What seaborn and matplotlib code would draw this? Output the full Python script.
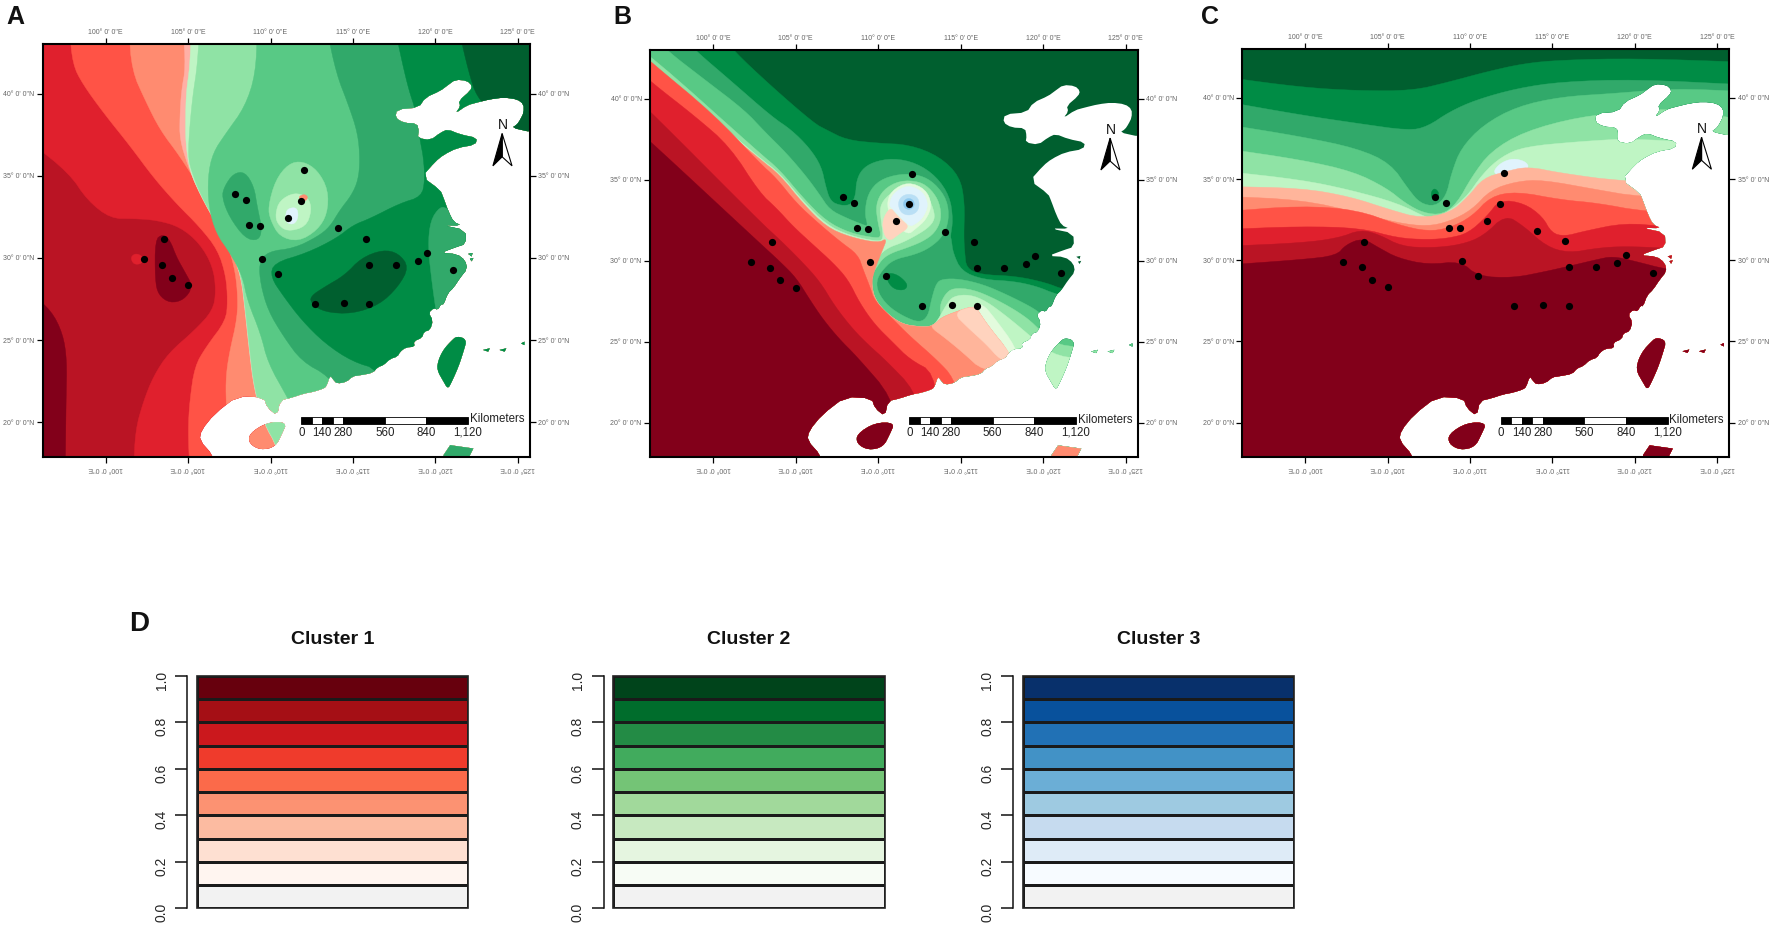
import numpy as np
import pandas as pd
import matplotlib
matplotlib.use("Agg")
import matplotlib.pyplot as plt
from matplotlib.colors import ListedColormap
from matplotlib.patches import PathPatch, Polygon, Rectangle
from matplotlib.path import Path
import seaborn as sns

# ---------------- colours ----------------
MAROON, CRIM, RED, ORANGE, SALMON, PEACH, PINK = "#82001A", "#BA1424", "#E0202D", "#FF5346", "#FF8B70", "#FFB59B", "#FFD3BE"
DARK, GREEN, MID, LIGHT, PALEG, MINT, ICE = "#005F2F", "#008C45", "#31A96A", "#58C985", "#8FE3A5", "#BFF5C4", "#E3FBDD"
SKY, BLUE1, BLUE2 = "#E0F3FC", "#B9DFF5", "#8CC8EE"
RDPK = "#FFB0A6"
REDS = ["#67000D", "#A50F15", "#CB181D", "#EF3B2C", "#FB6A4A", "#FC9272", "#FCBBA1", "#FEE0D2", "#FFF5F0", "#F2F2F2"]
GREENS = ["#00441B", "#006D2C", "#238B45", "#41AB5D", "#74C476", "#A1D99B", "#C7E9C0", "#E5F5E0", "#F7FCF5", "#F2F2F2"]
BLUES = ["#08306B", "#08519C", "#2171B5", "#4292C6", "#6BAED6", "#9ECAE1", "#C6DBEF", "#DEEBF7", "#F7FBFF", "#F2F2F2"]

# ---------------- sampling sites ----------------
POINT_LON = [112.05, 107.85, 108.54, 111.84, 111.05, 108.70, 109.38, 114.07, 115.78, 103.57, 119.48, 102.30,
             109.49, 118.94, 103.41, 115.99, 117.64, 121.08, 110.45, 104.04, 104.99, 112.67, 114.44, 115.99]
POINT_LAT = [35.37, 33.91, 33.54, 33.48, 32.43, 32.02, 31.96, 31.80, 31.17, 31.13, 30.32, 29.91,
             29.95, 29.81, 29.57, 29.57, 29.57, 29.24, 29.04, 28.79, 28.35, 27.21, 27.27, 27.21]

# ---------------- land outlines (lon, lat) ----------------
COAST = [(125.58, 37.72), (124.65, 37.93), (124.96, 38.13), (125.16, 38.44), (125.36, 38.85), (125.36, 39.36), (124.96, 39.67),
         (124.15, 39.77), (123.34, 39.67), (122.53, 39.47), (121.92, 39.3), (121.21, 38.81), (121.52, 39.22), (121.42, 39.57),
         (122.12, 40.18), (122.23, 40.49), (121.92, 40.8), (121.21, 40.86), (120.71, 40.49), (120.3, 40.18), (119.39, 39.77),
         (118.99, 39.16), (117.67, 39.05), (117.57, 38.54), (118.08, 38.23), (118.89, 38.19), (118.99, 37.72), (118.93, 37.31),
         (119.7, 37.17), (120.3, 37.62), (120.75, 37.83), (121.52, 37.52), (122.53, 37.31), (122.43, 36.9), (121.32, 36.7),
         (120.51, 36.29), (120.0, 35.88), (119.19, 34.95), (120.3, 34.13), (120.47, 33.72), (120.8, 32.81), (121.11, 32.19),
         (121.6, 31.98), (120.4, 32.0), (121.82, 31.7), (121.86, 30.86), (121.21, 30.65), (120.3, 30.3), (121.31, 30.24), (121.82, 29.84),
         (121.92, 29.32), (121.51, 28.81), (121.11, 28.2), (120.75, 27.85), (120.5, 27.17), (120.35, 27.2), (120.15, 26.85),
         (119.9, 26.95), (119.59, 26.66), (119.85, 26.2), (119.69, 25.63), (119.3, 25.5), (119.2, 25.15), (118.68, 24.92),
         (118.75, 24.6), (118.2, 24.55), (117.87, 24.3), (117.7, 24.0), (117.25, 23.85), (116.86, 23.48), (116.5, 23.35),
         (116.2, 23.0), (115.44, 22.86), (115.0, 22.8), (114.6, 22.45), (114.03, 22.35), (113.8, 22.6), (113.62, 22.86),
         (113.4, 22.2), (113.22, 22.05), (112.6, 21.85), (112.01, 21.74), (111.3, 21.5), (110.59, 21.33), (110.4, 20.4),
         (109.8, 20.9), (109.6, 21.5), (108.0, 21.6), (106.6, 20.5), (105.8, 19.5), (105.7, 18.9), (106.5, 18.0), (106.8, 17)]
LAND_CORNERS = [(95, 17), (95, 44), (127, 44), (127, 37.72)]
HAINAN = [(108.7, 19.3), (109.8, 20.0), (111.0, 20.0), (110.7, 19.3), (110.3, 18.5), (109.4, 18.3), (108.7, 18.7)]
TAIWAN = [(121.31, 25.25), (121.91, 25.04), (121.71, 24.32), (121.41, 23.4), (121.0, 22.47), (120.76, 22.02), (120.5, 22.47),
          (120.09, 23.19), (120.19, 23.81), (120.5, 24.43), (120.96, 24.94)]
LUZON = [(120.5, 17), (120.5, 18.0), (120.9, 18.6), (122.3, 18.4), (122.0, 17.8), (122, 17)]
ISLET_1 = [(122.9, 24.4), (123.3, 24.5), (123.2, 24.3)]
ISLET_2 = [(123.9, 24.4), (124.3, 24.5), (124.2, 24.3)]
ISLET_3 = [(125.2, 24.8), (125.4, 24.9), (125.4, 24.7)]
ISLET_4 = [(122.0, 30.25), (122.25, 30.3), (122.2, 30.1)]
ISLET_5 = [(122.1, 29.95), (122.3, 30.0), (122.2, 29.8)]

# ---------------- panel A class boundaries ----------------
A_CORNER = [(95.5, 27.8), (96.7, 26.8), (97.4, 25.4), (97.65, 23.8), (97.6, 21.35), (97.55, 17)]
A_RED = [(95.5, 37.0), (97.8, 35.15), (98.9, 33.5), (100.3, 32.4), (101.7, 32.4), (103.1, 32.3), (104.5, 31.9), (105.7, 30.9),
         (106.5, 29.5), (106.7, 28.0), (106.5, 26.8), (105.4, 25.6), (103.8, 24.2), (102.9, 22.8), (102.3, 21.3), (101.8, 19.5), (101.7, 17)]
A_ORANGE = [(97.8, 44), (98.0, 41.8), (98.6, 40.6), (99.9, 38.8), (101.5, 36.8), (102.9, 34.9), (104.3, 33.3), (105.7, 31.9),
            (106.8, 30.5), (107.3, 28.9), (107.4, 27.4), (107.3, 26.2), (106.1, 24.6), (105.4, 23.4), (105.1, 21.3), (105.0, 19.5), (105.1, 17)]
A_SALMON = [(101.4, 44), (101.6, 41.4), (102.4, 39.6), (103.3, 37.8), (104.5, 36.2), (105.7, 34.3), (106.6, 32.7), (107.3, 31.1),
            (107.8, 29.5), (108.0, 28.0), (108.0, 26.4), (107.5, 24.2), (107.3, 22.8), (107.3, 21.3), (107.5, 17)]
A_RDPK = [(104.7, 44), (104.85, 41.6), (104.6, 40.2), (104.5, 38.6), (104.5, 37.2), (105.0, 35.6), (105.7, 33.9), (106.8, 31.9),
          (107.6, 30.5), (108.2, 28.9), (108.45, 26.8), (108.7, 24.4), (109.0, 22.0), (109.6, 19.9), (110.4, 18.5), (110.5, 17)]
A_MINT = [(105.2, 44), (105.1, 41.6), (104.9, 40.2), (104.85, 38.8), (104.85, 37.0), (105.1, 35.3), (105.72, 33.9), (106.82, 31.9),
          (107.62, 30.5), (108.22, 28.9), (108.47, 26.8), (108.72, 24.4), (109.02, 22.0), (109.62, 19.9), (110.42, 18.5), (110.52, 17)]
A_PALEG = [(105.7, 44), (105.55, 41.6), (105.3, 40.0), (105.1, 38.0), (105.0, 36.2), (105.2, 35.3), (105.74, 33.9), (106.84, 31.9),
           (107.64, 30.5), (108.24, 28.9), (108.49, 26.8), (108.74, 24.4), (109.04, 22.0), (109.64, 19.9), (110.44, 18.5), (110.54, 17)]
A_LIGHT = [(109.2, 44), (109.1, 41.2), (108.45, 39.2), (107.3, 37.6), (106.5, 36.4), (106.2, 34.95), (106.25, 33.1), (106.7, 31.5),
           (107.55, 30.3), (108.3, 28.9), (108.6, 27.4), (109.4, 25.4), (109.85, 23.6), (111.0, 21.55), (112.2, 19.3), (112.2, 17)]
A_MID = [(113.4, 44), (114.0, 41.2), (114.7, 39.4), (115.3, 37.6), (115.43, 35.97), (115.32, 34.75), (114.92, 33.83), (114.21, 32.92),
         (113.6, 31.9), (112.85, 31.3), (111.45, 30.6), (109.85, 30.4), (109.3, 29.7), (109.4, 28.4), (109.85, 26.8), (110.8, 25.2),
         (111.9, 23.7), (113.55, 22.8), (114.5, 21.3), (114.5, 17)]
A_GREEN = [(117.55, 44), (118.0, 41.85), (118.4, 40.2), (118.8, 39.0), (119.1, 37.0), (119.27, 36.17), (119.37, 34.75), (119.16, 33.73),
           (117.85, 33.33), (116.03, 32.4), (115.0, 32.0), (114.0, 31.2), (112.2, 30.3), (110.2, 29.7), (110.0, 28.85), (110.8, 27.65),
           (111.9, 26.2), (113.3, 24.8), (114.95, 23.7), (116.6, 23.2), (118, 20)]
A_ZHEJIANG = [(120.75, 33.0), (120.3, 33.15), (119.7, 32.3), (119.55, 30.7), (119.8, 28.45), (120.05, 26.7)]
A_DARK = [(121.4, 44), (122.0, 41.4), (122.5, 39.8), (123.55, 38.8), (124.0, 37.6)]
A_DARK_BLOB = [(112.4, 27.65), (113.3, 28.25), (114.5, 28.95), (115.5, 30.0), (116.8, 30.5), (117.75, 30.3), (118.4, 29.45),
               (117.75, 28.25), (116.6, 27.15), (114.95, 26.6), (113.3, 26.7), (112.5, 27.2)]
A_MID_BLOB = [(107.2, 34.35), (107.75, 35.15), (108.45, 35.25), (109.0, 34.35), (109.2, 33.1), (109.5, 31.7), (109.25, 31.05),
              (108.45, 31.2), (107.5, 32.5), (107.05, 33.7)]
A_PALE_BLOB = [(109.85, 33.1), (110.3, 34.75), (111.1, 35.75), (111.95, 35.9), (112.85, 35.35), (113.5, 34.15), (113.45, 32.7),
               (112.85, 31.7), (111.7, 31.0), (110.55, 31.3), (110.0, 32.3)]
A_MINT_BLOB = [(110.3, 32.7), (110.55, 33.5), (111.45, 34.0), (112.3, 33.7), (112.5, 32.9), (112.15, 31.9), (111.0, 31.6), (110.4, 32.1)]
A_SKY_BLOB = [(110.9, 32.5), (111.0, 33.0), (111.6, 33.1), (111.7, 32.5), (111.45, 32.05), (111.0, 32.1)]
A_SALMON_DOT = [(111.65, 33.7), (112.05, 33.9), (112.3, 33.7), (112.05, 33.4)]
A_RED_DOT = [(101.5, 30.05), (101.85, 30.3), (102.3, 30.05), (102.2, 29.65), (101.7, 29.6)]
A_MAROON_BLOB = [(103.0, 31.1), (103.45, 31.45), (103.9, 31.1), (104.3, 30.05), (104.75, 29.25), (105.3, 28.25), (104.75, 27.45),
                 (103.9, 27.25), (103.2, 27.75), (103.0, 28.65)]

# ---------------- panel B class boundaries ----------------
B_GREEN = [(100.5, 44), (101.2, 43.0), (103.55, 40.75), (106.1, 38.5), (106.85, 38.09), (108.07, 37.47), (109.9, 37.27), (111.9, 37.17),
           (113.7, 36.45), (114.94, 35.21), (115.24, 33.57), (115.18, 31.51), (115.24, 30.49), (115.34, 29.56), (116.15, 29.15),
           (118.37, 29.05), (120.19, 28.64), (121.2, 28.23), (127, 26.5)]
B_MID = [(98, 44), (98.9, 43), (101.0, 41.17), (103.55, 38.9), (104.73, 38.09), (105.84, 36.96), (106.55, 35.83), (106.81, 34.6),
         (107.1, 33.67), (107.76, 33.4), (108.37, 33.47), (108.63, 34.08), (108.67, 34.9), (108.98, 35.62), (109.68, 36.1), (110.9, 36.34),
         (112.31, 36.04), (113.52, 35.21), (114.33, 33.98), (114.53, 32.54), (114.37, 31.51), (114.43, 31.31), (114.53, 30.49),
         (115.04, 29.36), (116.35, 28.84), (118.17, 28.74), (119.59, 28.43), (120.8, 27.92), (127, 26)]
B_LIGHT = [(96.3, 44), (97.17, 43), (99.5, 41.17), (101.9, 39.3), (103.1, 37.99), (104.43, 36.65), (105.64, 35.21), (106.45, 34.08),
           (107.05, 33.16), (108.07, 32.64), (109.08, 32.23), (109.38, 32.13), (109.17, 32.95), (109.38, 34.18), (110.08, 35.0), (111.3, 35.37),
           (112.51, 35.31), (113.42, 34.8), (114.17, 33.77), (114.29, 32.54), (113.92, 31.51), (113.11, 30.79), (112.2, 30.38), (110.89, 30.07),
           (110.19, 29.36), (109.88, 28.74), (109.99, 28.02), (110.59, 27.2), (111.5, 26.58), (112.51, 26.17), (113.02, 26.58), (113.22, 27.61),
           (113.52, 28.64), (113.92, 28.88), (114.94, 28.88), (116.35, 28.54), (117.77, 27.92), (119.18, 27.2), (119.79, 26.79), (122, 25), (127, 25)]
B_PALEG = [(95, 43.3), (96.19, 42.7), (102.81, 36.65), (104.02, 35.62), (105.44, 33.88), (106.85, 32.44), (108.27, 31.72), (109.78, 31.41),
           (110.19, 31.47), (109.98, 32.33), (109.84, 33.46), (110.29, 34.39), (111.3, 34.96), (112.51, 34.9), (113.22, 34.39), (113.72, 33.57),
           (113.82, 32.54), (113.42, 31.72), (112.71, 31.2), (111.7, 30.79), (110.89, 30.52), (110.29, 30.17), (109.88, 29.56), (109.68, 29.25),
           (109.58, 28.64), (109.78, 27.61), (110.59, 26.68), (111.5, 26.07), (112.51, 25.93), (113.12, 25.93), (113.52, 26.17), (113.82, 26.48),
           (113.72, 27.2), (114.03, 27.92), (114.53, 28.33), (115.74, 28.23), (117.16, 27.61), (118.57, 26.79), (119.48, 26.07), (120.5, 24.9),
           (122.5, 24.6), (127, 24.6)]
B_MINT = [(95, 42.6), (96.19, 42.1), (102.81, 36.34), (104.02, 35.42), (105.44, 33.67), (106.85, 32.23), (108.27, 31.56), (109.88, 31.2),
          (110.33, 31.31), (110.18, 32.43), (110.08, 33.36), (110.59, 34.08), (111.5, 34.59), (112.31, 34.49), (113.01, 33.98), (113.36, 33.15),
          (113.42, 32.54), (113.01, 32.02), (112.2, 31.51), (111.4, 31.1), (110.69, 30.85), (110.18, 30.48), (109.88, 29.97), (109.8, 29.76),
          (109.68, 29.25), (109.58, 28.64), (109.78, 27.61), (110.59, 26.68), (111.5, 26.07), (112.51, 25.93), (113.12, 25.93), (113.52, 26.17),
          (114.13, 27.3), (114.53, 27.82), (115.54, 27.92), (116.55, 27.5), (117.77, 26.58), (118.98, 25.56), (120.5, 24.2), (122.5, 23.9), (127, 23.9)]
B_ICE_STRIP = [(115.6, 27.4), (116.35, 27.3), (116.96, 26.58), (118.37, 24.63), (118.5, 23.5), (116, 23.5)]
B_RING = [(110.49, 33.46), (110.79, 34.33), (111.8, 34.88), (112.87, 34.43), (113.26, 33.46), (112.91, 32.54), (112.2, 31.92), (111.8, 31.61), (110.89, 32.33)]
B_SKY = [(110.65, 33.46), (110.89, 34.18), (111.8, 34.7), (112.71, 34.28), (113.05, 33.46), (112.71, 32.64), (112.2, 32.23), (111.9, 32.13), (111.4, 32.64), (110.79, 33.26)]
B_BLUE1 = [(111.19, 33.57), (111.4, 33.98), (111.84, 34.14), (112.35, 33.98), (112.51, 33.5), (112.35, 32.99), (111.84, 32.78), (111.34, 32.99)]
B_BLUE2 = [(111.5, 33.5), (111.6, 33.77), (111.84, 33.87), (112.1, 33.77), (112.2, 33.5), (112.1, 33.26), (111.84, 33.15), (111.6, 33.26)]
B_LOBE = [(110.73, 33.32), (111.09, 32.85), (111.4, 32.54), (111.9, 32.09), (111.2, 31.61), (110.69, 31.2), (110.33, 31.61), (110.24, 32.54)]
B_SALMON = [(95, 43.0), (96.19, 41.9), (102.81, 36.28), (104.02, 35.32), (105.44, 33.53), (106.85, 32.09), (108.27, 31.47), (109.99, 31.1), (110.55, 31.41),
            (110.18, 30.48), (109.78, 29.46), (109.58, 28.64), (109.78, 27.61), (110.59, 26.68), (111.5, 26.07), (112.51, 25.93), (113.12, 25.93),
            (113.52, 26.17), (113.82, 26.48), (114.53, 26.79), (115.85, 27.24), (116.19, 26.69), (116.75, 25.86), (117.97, 24.32), (118.5, 22.5),
            (119.5, 19), (124, 19), (124, 17)]
B_PEACH = [(116.35, 23.19), (115.14, 24.32), (114.03, 25.25), (113.12, 25.93), (113.52, 26.17), (113.82, 26.48), (114.53, 26.79), (115.85, 27.24),
           (116.19, 26.69), (116.75, 25.86), (117.97, 24.32), (118.2, 23.3)]
B_PINK = [(114.53, 26.79), (115.85, 27.24), (116.19, 26.69), (116.75, 25.86), (117.97, 24.32), (118.2, 23.6), (117.36, 23.91), (116.55, 24.84), (115.44, 25.86)]
B_GREEN_BLOB = [(110.8, 29.25), (111.3, 29.05), (111.8, 28.53), (111.6, 28.18), (111.0, 28.23), (110.6, 28.64), (110.49, 29.15)]
B_ORANGE = [(95, 43.4), (96.19, 42.3), (100.07, 39.01), (102.81, 36.04), (103.82, 35.11), (105.03, 33.57), (106.35, 32.34), (107.66, 31.21),
            (108.77, 30.38), (109.08, 29.46), (109.48, 28.43), (109.78, 27.51), (110.9, 26.38), (111.91, 25.35), (113.52, 23.91), (114.57, 22.78),
            (115, 21), (115, 17)]
B_RED = [(95, 42.2), (96.19, 41.07), (98.91, 38.91), (101.0, 37.06), (102.81, 34.2), (103.82, 33.26), (104.83, 32.13), (106.04, 31.0), (107.26, 29.87),
         (108.17, 28.84), (108.87, 27.4), (109.78, 26.07), (110.9, 24.94), (111.91, 23.91), (113.41, 23.09), (113.6, 20), (113.6, 17)]
B_CRIM = [(95, 40.3), (96.19, 39.22), (102.81, 32.44), (104.02, 31.31), (105.24, 30.08), (106.45, 28.74), (107.36, 27.2), (108.47, 25.76),
          (109.48, 24.73), (110.39, 23.91), (112.25, 21.96), (112.5, 20), (112.5, 17)]
B_MAROON = [(95, 38.4), (96.19, 37.37), (102.81, 31.1), (104.02, 29.97), (105.03, 28.94), (105.84, 27.61), (106.65, 26.38), (107.66, 25.14),
            (108.67, 24.12), (110.86, 21.55), (111.2, 19), (111.2, 17)]

# ---------------- panel C class boundaries ----------------
C_GREEN = [(95, 41.3), (99.75, 40.66), (103.13, 40.45), (106.51, 40.45), (108.76, 41.0), (111.01, 41.62), (113.27, 42.13), (115.52, 42.34), (120.02, 42.44), (127, 42.2)]
C_MID = [(95, 39.8), (99.75, 38.95), (103.13, 38.44), (106.28, 37.99), (107.41, 38.24), (108.76, 39.16), (110.34, 39.88), (112.82, 40.59), (115.52, 41.0), (120.02, 41.15), (127, 40.8)]
C_LIGHT = [(95, 38.4), (99.75, 37.62), (103.13, 36.9), (105.16, 35.98), (106.28, 34.34), (106.96, 33.52), (107.86, 33.32), (108.54, 33.93), (108.87, 35.37),
           (109.44, 36.9), (110.79, 38.34), (112.82, 39.47), (115.52, 40.08), (118.9, 40.29), (122.27, 40.59), (127, 40.39)]
C_PALEG = [(95, 36.9), (99.75, 36.19), (102.91, 35.47), (104.93, 34.45), (106.06, 33.52), (107.18, 32.91), (108.31, 32.81), (109.21, 33.52), (110.11, 35.16),
           (111.24, 36.7), (113.27, 37.93), (116.64, 38.85), (120.02, 39.16), (122.27, 39.36), (127, 38.6)]
C_MINT = [(95, 35.5), (99.75, 34.96), (102.7, 34.34), (105.61, 33.52), (107.41, 32.6), (108, 32.55), (109.66, 33.73), (110.79, 35.37), (111.91, 36.39),
          (113.27, 37.0), (116.64, 37.32), (120.02, 37.52), (127, 37.0)]
C_SKY = [(111.35, 35.37), (111.8, 35.98), (112.59, 36.29), (113.38, 36.09), (113.6, 35.68), (112.82, 35.47), (112.05, 35.2)]
C_PEACH = [(95, 34.55), (99.75, 34.45), (102.68, 33.93), (105.16, 33.11), (106.96, 32.6), (108.76, 32.91), (109.89, 33.93), (110.79, 35.06), (112.14, 35.47),
           (113.49, 35.78), (115.52, 35.37), (119.23, 34.86), (127, 34.6)]
C_SALMON = [(95, 33.95), (99.75, 33.73), (103.36, 32.91), (105.61, 32.3), (107.41, 32.09), (108.76, 32.4), (110.11, 33.11), (111.24, 34.34), (112.82, 34.86),
            (114.39, 34.96), (117.77, 34.34), (120.14, 33.93), (127, 33.6)]
C_ORANGE = [(95, 33.0), (99.75, 33.36), (103.13, 33.11), (105.61, 32.19), (107.41, 31.78), (108.76, 31.99), (110.11, 32.7), (111.24, 33.93), (112.82, 34.24),
            (115.52, 33.73), (117.77, 33.52), (120.48, 33.01), (127, 32.6)]
C_RED = [(95, 31.9), (99.75, 32.09), (103.36, 31.99), (105.61, 31.37), (107.41, 31.27), (108.76, 31.37), (109.89, 31.68), (111.01, 32.7), (111.8, 33.73),
         (113.27, 33.52), (114.39, 32.7), (114.95, 31.68), (115.74, 31.48), (116.87, 31.78), (119.35, 32.3), (121.82, 32.09), (127, 31.8)]
C_CRIM = [(95, 30.86), (99.75, 31.07), (102, 31.37), (103.36, 31.89), (104.48, 31.58), (105.83, 30.86), (107.64, 30.76), (109.44, 30.96), (110.79, 31.48),
          (112.14, 32.81), (113.27, 32.09), (114.62, 30.86), (115.97, 30.45), (117.77, 30.76), (119.35, 30.86), (121.82, 30.76), (127, 30.4)]
C_MAROON = [(95, 29.7), (99.75, 30.04), (101.89, 30.29), (102.45, 30.96), (103.47, 31.37), (104.48, 30.76), (105.61, 30.14), (107.41, 29.73), (109.44, 29.94),
            (110.45, 29.02), (112.59, 28.91), (114.62, 29.32), (115.97, 29.63), (117.66, 30.04), (118.67, 30.25), (120.02, 29.94), (121.94, 29.43), (127, 28.6)]
C_NOTCH = [(107.64, 34.24), (107.86, 34.45), (108.13, 34.14), (107.97, 33.83), (107.64, 33.83)]

# ---------------- map furniture ----------------
LON_TICKS = [100, 105, 110, 115, 120, 125]
LAT_TICKS = [20, 25, 30, 35, 40]
SCALE_KM = [0, 70, 140, 210, 280, 560, 840, 1120]
SCALE_LABEL_KM = [0, 140, 280, 560, 840, 1120]
SCALE_LABELS = ["0", "140", "280", "560", "840", "1,120"]
ARROW_LEFT = [(124.05, 37.58), (123.49, 35.61), (124.05, 36.16)]
ARROW_RIGHT = [(124.05, 37.58), (124.65, 35.61), (124.05, 36.16)]
LEGEND_TICKS = ["1.0", "0.8", "0.6", "0.4", "0.2", "0.0"]

W, H = 1772, 930
SCALE_LON0, DEG_PER_KM = 111.88, 0.00902
EAST = [(127, 17), (127, 44)]
SW = [(127, 17), (95, 17), (95, 44)]
WEST = [(95, 17)]
SOUTH = [(127, 17), (95, 17)]

sns.set_style("white")
plt.rcParams["font.family"] = ["Liberation Sans", "DejaVu Sans"]
fig = plt.figure(figsize=(W / 100, H / 100), dpi=100, facecolor="white")


def add_axes(left, right, top, bottom):
    return fig.add_axes([left / W, 1 - bottom / H, (right - left) / W, (bottom - top) / H])


def chaikin(pts, closed, n=2):
    p = np.asarray(pts, float)
    for _ in range(n):
        if closed:
            q = np.roll(p, -1, axis=0)
            p = np.column_stack([0.75 * p + 0.25 * q, 0.25 * p + 0.75 * q]).reshape(-1, 2)
        else:
            a, b = p[:-1], p[1:]
            mid = np.column_stack([0.75 * a + 0.25 * b, 0.25 * a + 0.75 * b]).reshape(-1, 2)
            p = np.vstack([p[0], mid, p[-1]])
    return p


def land_path():
    mainland = np.vstack([chaikin(COAST, False, 1), np.asarray(LAND_CORNERS, float)])
    parts = [Path(np.vstack([mainland, mainland[0]]), closed=True)]
    for poly in (HAINAN, TAIWAN):
        s = chaikin(poly, True, 2)
        parts.append(Path(np.vstack([s, s[0]]), closed=True))
    for poly in (LUZON, ISLET_1, ISLET_2, ISLET_3, ISLET_4, ISLET_5):
        parts.append(Path(list(poly) + [poly[0]], closed=True))
    return Path.make_compound_path(*parts)


def draw_map(ax, base, layers, ylim_top):
    ax.set_xlim(96.17, 125.74)
    ax.set_ylim(17.9, ylim_top)
    land = land_path()

    def fill(pts, colour):
        poly = Polygon(pts, closed=True, fc=colour, ec=colour, lw=0.3)
        ax.add_patch(poly)
        poly.set_clip_path(land, ax.transData)

    fill([(95, 17), (127, 17), (127, 44), (95, 44)], base)
    for curve, colour, corners in layers:
        if corners is None:
            fill(chaikin(curve, True), colour)
        else:
            fill(np.vstack([chaikin(curve, False), np.asarray(corners, float)]), colour)

    sns.scatterplot(x=POINT_LON, y=POINT_LAT, color="black", s=27, linewidth=0, ax=ax, legend=False, zorder=6)

    edges = np.array(SCALE_KM, float)
    for i, (a, b) in enumerate(zip(edges[:-1], edges[1:])):
        ax.add_patch(Rectangle((SCALE_LON0 + a * DEG_PER_KM, 19.92), (b - a) * DEG_PER_KM, 0.41,
                               fc="black" if i % 2 == 0 else "white", ec="black", lw=0.6, zorder=7))
    for km, lab in zip(SCALE_LABEL_KM, SCALE_LABELS):
        ax.text(SCALE_LON0 + km * DEG_PER_KM, 19.37, lab, ha="center", va="center", fontsize=8.3, color="#222222", zorder=7)
    ax.text(122.1, 20.17, "Kilometers", ha="left", va="center", fontsize=8.3, color="#222222", zorder=7)

    ax.text(124.07, 38.1, "N", ha="center", va="center", fontsize=10, color="#111111", zorder=7)
    ax.add_patch(Polygon(ARROW_RIGHT, closed=True, fc="white", ec="black", lw=0.8, zorder=7))
    ax.add_patch(Polygon(ARROW_LEFT, closed=True, fc="black", ec="black", lw=0.8, zorder=7))

    ax.set_xticks(LON_TICKS)
    ax.set_yticks(LAT_TICKS)
    ax.set_xticklabels([f"{v}° 0' 0\"E" for v in LON_TICKS], fontsize=5, color="#666666")
    ax.set_yticklabels([f"{v}° 0' 0\"N" for v in LAT_TICKS], fontsize=5, color="#666666")
    ax.tick_params(axis="both", which="major", length=4, width=0.9, color="black", pad=2,
                   top=True, bottom=True, left=True, right=True,
                   labeltop=True, labelbottom=True, labelleft=True, labelright=True)
    for tick in ax.xaxis.get_major_ticks():
        tick.label1.set_rotation(180)
    for s in ax.spines.values():
        s.set_visible(True)
        s.set_linewidth(1.5)
        s.set_color("black")
    ax.grid(False)


LAYERS_A = [
    (A_CORNER, MAROON, WEST), (A_MAROON_BLOB, MAROON, None),
    (A_RED, RED, [(127, 17), (127, 44), (95, 44)]), (A_RED_DOT, RED, None), (A_ORANGE, ORANGE, EAST), (A_SALMON, SALMON, EAST),
    (A_RDPK, RDPK, EAST), (A_MINT, MINT, EAST), (A_PALEG, PALEG, EAST), (A_LIGHT, LIGHT, EAST), (A_MID, MID, EAST),
    (A_GREEN, GREEN, [(127, 20), (127, 44)]), (A_ZHEJIANG, MID, [(123, 26.7), (123, 33.0)]), (A_DARK, DARK, [(127, 37.6), (127, 44)]),
    (A_DARK_BLOB, DARK, None), (A_MID_BLOB, MID, None), (A_PALE_BLOB, PALEG, None), (A_MINT_BLOB, MINT, None),
    (A_SKY_BLOB, SKY, None), (A_SALMON_DOT, SALMON, None),
]
LAYERS_B = [
    (B_GREEN, GREEN, SW), (B_MID, MID, SW), (B_LIGHT, LIGHT, SW), (B_GREEN_BLOB, GREEN, None), (B_PALEG, PALEG, SOUTH), (B_MINT, MINT, SOUTH),
    (B_ICE_STRIP, ICE, None), (B_RING, ICE, None), (B_SKY, SKY, None), (B_BLUE1, BLUE1, None), (B_BLUE2, BLUE2, None), (B_LOBE, PINK, None),
    (B_SALMON, SALMON, WEST), (B_PEACH, PEACH, None), (B_PINK, PINK, None), (B_ORANGE, ORANGE, WEST), (B_RED, RED, WEST),
    (B_CRIM, CRIM, WEST), (B_MAROON, MAROON, WEST),
]
LAYERS_C = [
    (C_GREEN, GREEN, SOUTH), (C_MID, MID, SOUTH), (C_LIGHT, LIGHT, SOUTH), (C_NOTCH, GREEN, None), (C_PALEG, PALEG, SOUTH), (C_MINT, MINT, SOUTH),
    (C_SKY, SKY, None), (C_PEACH, PEACH, SOUTH), (C_SALMON, SALMON, SOUTH), (C_ORANGE, ORANGE, SOUTH), (C_RED, RED, SOUTH),
    (C_CRIM, CRIM, SOUTH), (C_MAROON, MAROON, SOUTH),
]

draw_map(add_axes(42.5, 530, 44, 456.7), CRIM, LAYERS_A, 43.03)
draw_map(add_axes(650.1, 1138, 50.3, 456.7), DARK, LAYERS_B, 43.0)
draw_map(add_axes(1242.3, 1729.4, 49.3, 456.7), DARK, LAYERS_C, 43.0)


def draw_strip(left, right, colours, title):
    ax = add_axes(left, right, 676, 908.3)
    frame = pd.DataFrame({"v": np.arange(10)})
    sns.heatmap(frame, ax=ax, cmap=ListedColormap(colours), cbar=False, linewidths=0.8, linecolor="#1a1a1a",
                xticklabels=False, vmin=-0.5, vmax=9.5)
    ax.set_ylabel("")
    ax.add_patch(Rectangle((0, 0), 1, 10, fill=False, ec="#222222", lw=1.2, clip_on=False, zorder=5))
    ax.set_yticks(np.arange(0, 11, 2))
    ax.set_yticklabels(LEGEND_TICKS, fontsize=11, color="#444444")
    ax.tick_params(axis="y", left=True, length=8.4, width=1.1, color="#111111", pad=5, labelrotation=90)
    for lab in ax.get_yticklabels():
        lab.set_va("center")
    ax.tick_params(axis="x", bottom=False)
    ax.spines["left"].set_visible(True)
    ax.spines["left"].set_position(("outward", 7))
    ax.spines["left"].set_bounds(0, 10)
    ax.spines["left"].set_color("#111111")
    ax.spines["left"].set_linewidth(1.1)
    ax.set_title(title, fontsize=14, fontweight="bold", color="#111111", pad=23)


draw_strip(196.9, 468.4, REDS, "Cluster 1")
draw_strip(613.3, 884.7, GREENS, "Cluster 2")
draw_strip(1022.7, 1294, BLUES, "Cluster 3")

for letter, x, y, size in [("A", 6, 24, 18), ("B", 613, 24, 18), ("C", 1201, 24, 18), ("D", 129, 631, 20)]:
    fig.text(x / W, 1 - y / H, letter, fontsize=size, fontweight="bold", color="#111111", ha="left", va="baseline")

fig.savefig("out.png", dpi=100, facecolor="white")
